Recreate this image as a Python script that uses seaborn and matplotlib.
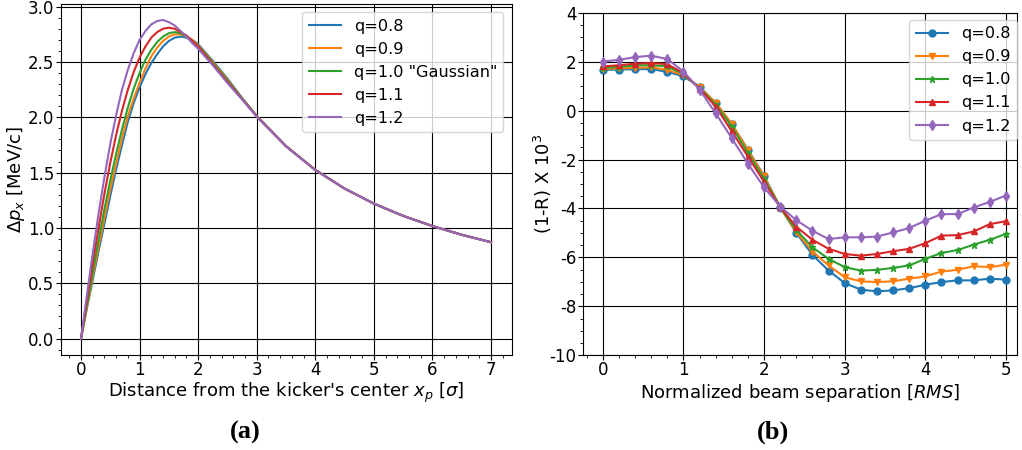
import numpy as np
import pandas as pd
import matplotlib
matplotlib.use('Agg')
import matplotlib.pyplot as plt
import seaborn as sns

plt.rcParams['axes.unicode_minus'] = False

# ---- panel (a): kick vs distance from the kicker's center ----
x_kick = [0, 0.1, 0.2, 0.3, 0.4, 0.5, 0.6, 0.7, 0.8, 0.9, 1.0, 1.1, 1.2, 1.3, 1.4,
          1.5, 1.6, 1.7, 1.8, 1.9, 2.0, 2.25, 2.5, 2.75, 3.0, 3.5, 4.0, 4.5, 5.0,
          5.5, 6.0, 6.5, 7.0]
kick_q08 = [0, 0.27, 0.53, 0.79, 1.04, 1.29, 1.53, 1.75, 1.96, 2.13, 2.27, 2.39, 2.49,
            2.57, 2.64, 2.69, 2.72, 2.73, 2.72, 2.70, 2.66, 2.51, 2.35, 2.175, 2.012,
            1.74, 1.525, 1.356, 1.22, 1.109, 1.017, 0.938, 0.871]
kick_q09 = [0, 0.28, 0.56, 0.83, 1.09, 1.35, 1.58, 1.81, 2.01, 2.17, 2.31, 2.44, 2.55,
            2.63, 2.69, 2.73, 2.75, 2.75, 2.73, 2.70, 2.65, 2.50, 2.34, 2.17, 2.011,
            1.74, 1.525, 1.356, 1.22, 1.109, 1.017, 0.938, 0.871]
kick_q10 = [0, 0.30, 0.60, 0.89, 1.17, 1.43, 1.67, 1.89, 2.09, 2.26, 2.40, 2.52, 2.61,
            2.68, 2.73, 2.76, 2.77, 2.76, 2.73, 2.69, 2.645, 2.49, 2.33, 2.17, 2.01,
            1.739, 1.524, 1.356, 1.22, 1.109, 1.017, 0.938, 0.871]
kick_q11 = [0, 0.34, 0.68, 1.00, 1.31, 1.59, 1.84, 2.06, 2.25, 2.41, 2.54, 2.64, 2.72,
            2.77, 2.80, 2.81, 2.80, 2.77, 2.74, 2.69, 2.64, 2.48, 2.32, 2.165, 2.008,
            1.738, 1.524, 1.356, 1.22, 1.109, 1.017, 0.938, 0.871]
kick_q12 = [0, 0.39, 0.77, 1.13, 1.46, 1.76, 2.02, 2.25, 2.43, 2.58, 2.70, 2.78, 2.84,
            2.87, 2.88, 2.86, 2.83, 2.78, 2.73, 2.67, 2.62, 2.47, 2.31, 2.16, 2.005,
            1.737, 1.523, 1.356, 1.22, 1.109, 1.017, 0.938, 0.871]
kick_labels = ['q=0.8', 'q=0.9', 'q=1.0 "Gaussian"', 'q=1.1', 'q=1.2']

# ---- panel (b): (1-R) x 10^3 vs normalized beam separation ----
sep = [0, 0.2, 0.4, 0.6, 0.8, 1.0, 1.2, 1.4, 1.6, 1.8, 2.0, 2.2, 2.4, 2.6, 2.8,
       3.0, 3.2, 3.4, 3.6, 3.8, 4.0, 4.2, 4.4, 4.6, 4.8, 5.0]
r_q08 = [1.67, 1.68, 1.70, 1.70, 1.59, 1.40, 0.98, 0.30, -0.55, -1.60, -2.67, -3.95,
         -5.00, -5.90, -6.54, -7.05, -7.32, -7.39, -7.35, -7.26, -7.12, -7.01, -6.94,
         -6.94, -6.87, -6.91]
r_q09 = [1.71, 1.73, 1.75, 1.77, 1.67, 1.45, 0.96, 0.33, -0.55, -1.62, -2.69, -3.96,
         -4.97, -5.76, -6.33, -6.81, -6.98, -7.01, -6.98, -6.87, -6.78, -6.58, -6.51,
         -6.36, -6.40, -6.30]
r_q10 = [1.75, 1.79, 1.85, 1.86, 1.81, 1.49, 0.93, 0.25, -0.65, -1.74, -2.78, -3.96,
         -4.88, -5.59, -6.06, -6.40, -6.54, -6.51, -6.43, -6.33, -6.06, -5.82, -5.70,
         -5.48, -5.28, -5.04]
r_q11 = [1.81, 1.86, 1.92, 1.95, 1.90, 1.53, 0.90, 0.17, -0.85, -1.88, -2.91, -3.95,
         -4.75, -5.28, -5.65, -5.86, -5.93, -5.86, -5.75, -5.65, -5.42, -5.11, -5.09,
         -4.94, -4.64, -4.52]
r_q12 = [2.01, 2.08, 2.19, 2.25, 2.11, 1.60, 0.86, -0.11, -1.13, -2.17, -3.14, -3.92,
         -4.48, -4.91, -5.25, -5.18, -5.18, -5.15, -4.98, -4.80, -4.50, -4.23, -4.23,
         -3.96, -3.73, -3.47]
r_labels = ['q=0.8', 'q=0.9', 'q=1.0', 'q=1.1', 'q=1.2']
r_markers = ['o', 'v', '*', '^', 'd']

palette = sns.color_palette('tab10', 5)

# long tables for seaborn
kick_df = pd.concat([pd.DataFrame({'x': x_kick, 'y': v, 'q': lab})
                     for v, lab in zip([kick_q08, kick_q09, kick_q10, kick_q11, kick_q12],
                                       kick_labels)])
r_df = pd.concat([pd.DataFrame({'x': sep, 'y': v, 'q': lab})
                  for v, lab in zip([r_q08, r_q09, r_q10, r_q11, r_q12], r_labels)])

fig = plt.figure(figsize=(10.22, 4.5), dpi=100)
ax1 = fig.add_axes([0.0592, 0.2122, 0.4413, 0.7789])
ax2 = fig.add_axes([0.5702, 0.2107, 0.4247, 0.7607])

# panel (a)
sns.lineplot(data=kick_df, x='x', y='y', hue='q', hue_order=kick_labels,
             palette=palette, linewidth=1.5, legend=False, ax=ax1)
ax1.set_xlim(-0.35, 7.35)
ax1.set_ylim(-0.144, 3.024)
ax1.set_yticks([0, 0.5, 1.0, 1.5, 2.0, 2.5, 3.0])
ax1.minorticks_on()
ax1.grid(True, which='major', color='black', linewidth=0.8)
ax1.set_xlabel("Distance from the kicker's center $x_p$ [$\\sigma$]", fontsize=13)
ax1.set_ylabel("$\\Delta p_x$ [MeV/c]", fontsize=13)
ax1.xaxis.set_label_coords(0.5, -0.076)
ax1.yaxis.set_label_coords(-0.074, 0.5)
ax1.tick_params(labelsize=12, pad=1)
ax1.legend(ax1.get_lines()[:5], kick_labels, loc='upper right', fontsize=11.6)

# panel (b)
sns.lineplot(data=r_df, x='x', y='y', hue='q', hue_order=r_labels, style='q',
             style_order=r_labels, markers=r_markers, dashes=False, palette=palette,
             linewidth=1.5, markersize=5, markeredgecolor=None, markeredgewidth=1.0,
             legend=False, ax=ax2)
for ln, c in zip(ax2.get_lines()[:5], palette):
    ln.set_markeredgecolor(c)
ax2.set_xlim(-0.25, 5.135)
ax2.set_ylim(-10, 4)
ax2.set_yticks(range(-10, 5, 2))
ax2.minorticks_on()
ax2.grid(True, which='major', color='black', linewidth=0.8)
ax2.set_xlabel("Normalized beam separation [$RMS$]", fontsize=13)
ax2.set_ylabel("(1-R) X $10^3$", fontsize=13)
ax2.xaxis.set_label_coords(0.5, -0.077)
ax2.yaxis.set_label_coords(-0.066, 0.5)
ax2.tick_params(labelsize=12, pad=1)
ax2.legend(ax2.get_lines()[:5], r_labels, loc='upper right',
           bbox_to_anchor=(1.0, 0.9795), borderaxespad=0, fontsize=11.6)

fig.text(245 / 1022, 1 - 432 / 450, '(a)', ha='center', va='center',
         fontsize=19, fontweight='bold', family='Liberation Serif')
fig.text(773 / 1022, 1 - 432 / 450, '(b)', ha='center', va='center',
         fontsize=19, fontweight='bold', family='Liberation Serif')

fig.savefig('out.png', dpi=100)
